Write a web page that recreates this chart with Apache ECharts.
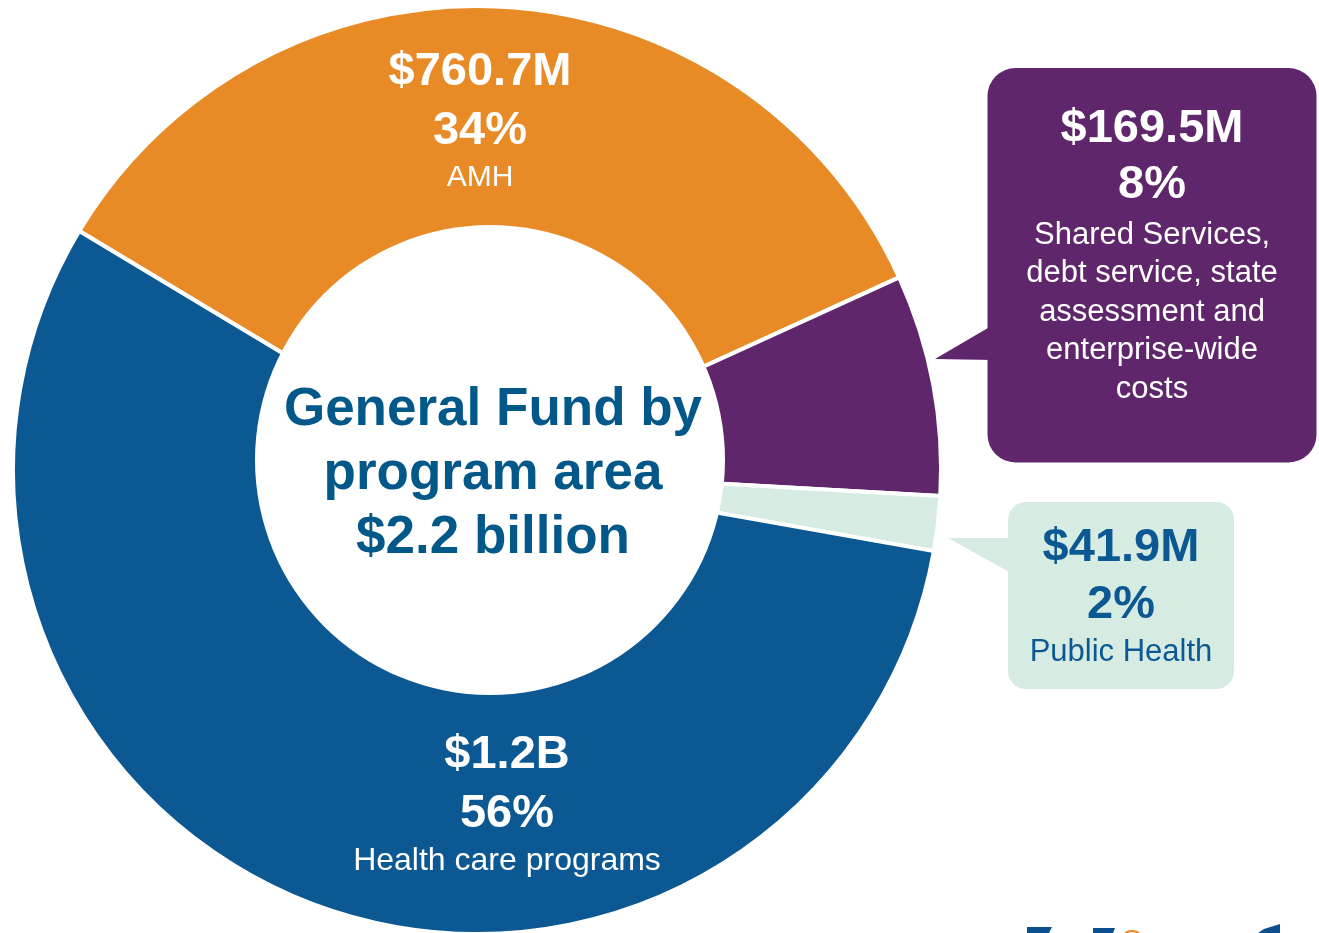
<!DOCTYPE html>
<html>
<head>
<meta charset="utf-8">
<title>General Fund by program area</title>
<script src="https://cdn.jsdelivr.net/npm/echarts@6/dist/echarts.min.js"></script>
<style>
    html, body { margin: 0; padding: 0; background: #fff; }
    #chart { width: 1319px; height: 933px; }
</style>
</head>
<body>
<div id="chart"></div>
<script>
    // slices in drawing order (clockwise from the upper left)
    const categories = ['AMH', 'Shared Services', 'Public Health', 'Health care programs'];
    const amounts = [760.7, 169.5, 41.9, 1227.9]; // $ millions, total $2.2 billion
    const amountLabels = ['$760.7M', '$169.5M', '$41.9M', '$1.2B'];
    const pctLabels = ['34%', '8%', '2%', '56%'];
    const nameLines = [
        ['AMH'],
        ['Shared Services,', 'debt service, state', 'assessment and', 'enterprise-wide', 'costs'],
        ['Public Health'],
        ['Health care programs']
    ];
    const centerLines = ['General Fund by', 'program area', '$2.2 billion'];

    const font = '"Liberation Sans", Arial, sans-serif';
    const colors = ['#e88a25', '#5f266b', '#d6ece2', '#0b5893'];
    const textColors = ['#fff', '#fff', '#0b5893', '#fff'];

    // where each label block goes (top centre of the block)
    const labelSpots = [
        { x: 480, y: 43 },
        { x: 1152, y: 68 },
        { x: 1121, y: 502 },
        { x: 507, y: 726 }
    ];

    function richFor(i) {
        const c = textColors[i];
        const big = { fontFamily: font, fontWeight: 'bold', fontSize: 47, color: c, align: 'center' };
        const small = { fontFamily: font, fontSize: 31, color: c, align: 'center' };
        if (i === 1) {
            return { a: { ...big, lineHeight: 50 }, p: { ...big, lineHeight: 62 }, d: { ...small, lineHeight: 38.5 } };
        }
        if (i === 2) {
            return { a: { ...big, lineHeight: 58 }, p: { ...big, lineHeight: 56 }, d: { ...small, lineHeight: 38 } };
        }
        return { a: { ...big, lineHeight: 59 }, p: { ...big, lineHeight: 59 }, d: { ...small, fontSize: i === 0 ? 30 : 32, lineHeight: 34 } };
    }

    function labelFor(i) {
        const label = {
            show: true,
            position: 'inside',
            formatter: '{a|' + amountLabels[i] + '}\n{p|' + pctLabels[i] + '}\n' +
                nameLines[i].map(l => '{d|' + l + '}').join('\n'),
            rich: richFor(i)
        };
        if (i === 1) {
            label.backgroundColor = colors[1];
            label.borderRadius = 28;
            label.width = 329;
            label.padding = [36, 0, 54, 0];
        }
        if (i === 2) {
            label.backgroundColor = colors[2];
            label.borderRadius = 18;
            label.width = 226;
            label.padding = [17, 0, 18, 0];
        }
        return label;
    }

    const myChart = echarts.init(document.getElementById('chart'));
    const option = {
        animation: false,
        title: {
            text: centerLines.join('\n'),
            left: 488,
            top: 373,
            textAlign: 'center',
            z: 60,
            textStyle: {
                fontFamily: font,
                fontWeight: 'bold',
                fontSize: 53,
                lineHeight: 64,
                color: '#03588a'
            }
        },
        graphic: [
            // hole of the donut (sits a little off the pie centre, as in the source)
            { type: 'circle', z: 50, silent: true, shape: { cx: 490, cy: 460, r: 235 }, style: { fill: '#fff' } },
            // callout pointers
            { type: 'polygon', z: 50, silent: true, shape: { points: [[935, 359], [993, 325], [993, 360]] }, style: { fill: colors[1] } },
            { type: 'polygon', z: 50, silent: true, shape: { points: [[948, 538], [1011, 538], [1011, 573]] }, style: { fill: colors[2] } },
            // top edge of the logo, cut off by the frame
            { type: 'polygon', z: 50, silent: true, shape: { points: [[1027, 927], [1052, 927], [1049, 933], [1027, 933]] }, style: { fill: '#0b4f8f' } },
            { type: 'polygon', z: 50, silent: true, shape: { points: [[1093, 928], [1115, 928], [1113, 933], [1093, 933]] }, style: { fill: '#0b4f8f' } },
            { type: 'arc', z: 50, silent: true, shape: { cx: 1132, cy: 942, r: 11, startAngle: Math.PI * 1.1, endAngle: Math.PI * 1.9 }, style: { stroke: '#e88a25', lineWidth: 2, fill: null } },
            { type: 'polygon', z: 50, silent: true, shape: { points: [[1280, 924], [1280, 933], [1258, 933], [1264, 929]] }, style: { fill: '#0b4f8f' } }
        ],
        series: [
            {
                type: 'pie',
                silent: true,
                center: [477, 470],
                radius: [0, 464],
                startAngle: 149,
                clockwise: true,
                itemStyle: { borderColor: '#fff', borderWidth: 4 },
                labelLine: { show: false },
                labelLayout: function (params) {
                    const s = labelSpots[params.dataIndex];
                    return { x: s.x, y: s.y, align: 'center', verticalAlign: 'top' };
                },
                data: categories.map((name, i) => ({
                    name: name,
                    value: amounts[i],
                    itemStyle: { color: colors[i] },
                    label: labelFor(i)
                }))
            }
        ]
    };
    myChart.setOption(option);
</script>
</body>
</html>
